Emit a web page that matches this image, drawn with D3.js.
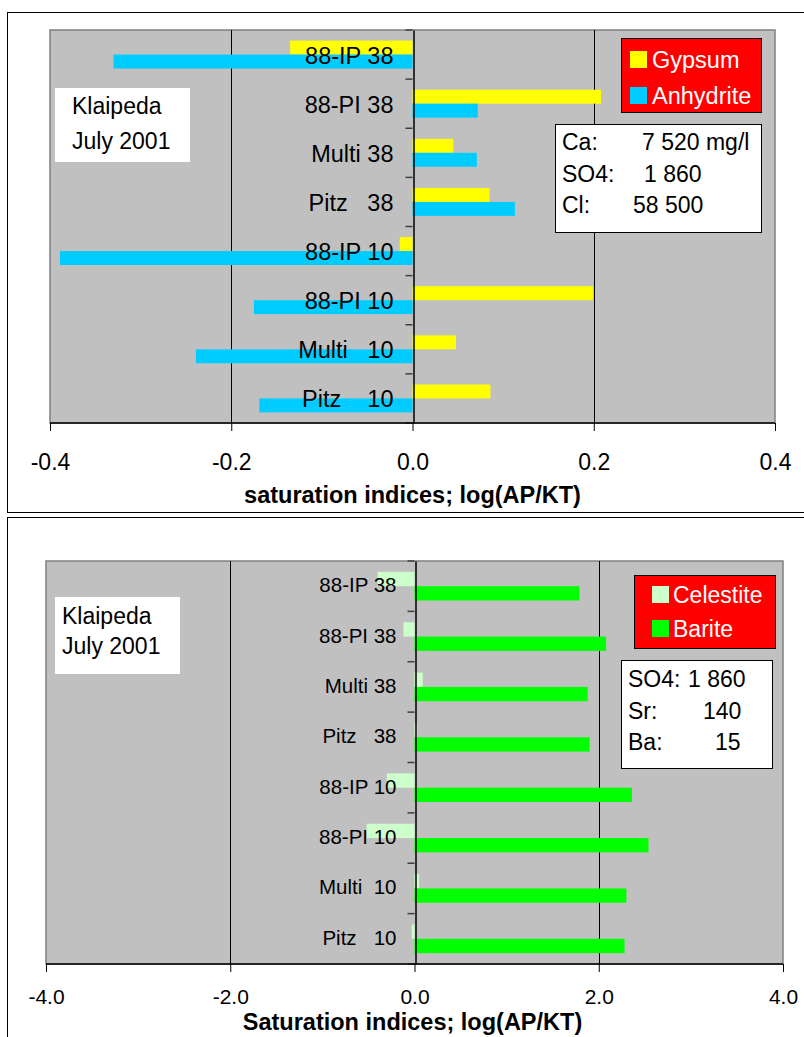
<!DOCTYPE html>
<html>
<head>
<meta charset="utf-8">
<script src="https://cdn.jsdelivr.net/npm/d3@7"></script>
<style>
  html, body { margin: 0; padding: 0; background: #fff; }
  svg { display: block; font-family: "Liberation Sans", Arial, sans-serif; }
  text { white-space: pre; }
</style>
</head>
<body>
<svg id="chart" width="804" height="1037"></svg>
<script>
// ---------- DATA ----------
const categoriesTop = ["88-IP 38", "88-PI 38", "Multi 38", "Pitz   38", "88-IP 10", "88-PI 10", "Multi   10", "Pitz    10"];
const gypsum    = [-0.135, 0.208, 0.045, 0.085, -0.014, 0.199, 0.048, 0.086];
const anhydrite = [-0.330, 0.072, 0.071, 0.113, -0.389, -0.175, -0.239, -0.169];
const seriesTop = ["Gypsum", "Anhydrite"];
const ticksTop = [-0.4, -0.2, 0.0, 0.2, 0.4];
const titleTop = "saturation indices; log(AP/KT)";
const infoTopLabels = ["Ca:", "SO4:", "Cl:"];
const infoTopValues = ["7 520 mg/l", "1 860", "58 500"];

const categoriesBottom = ["88-IP 38", "88-PI 38", "Multi 38", "Pitz   38", "88-IP 10", "88-PI 10", "Multi  10", "Pitz   10"];
const celestite = [-0.40, -0.12, 0.09, 0.03, -0.30, -0.52, 0.05, -0.03];
const barite    = [1.79, 2.08, 1.88, 1.90, 2.36, 2.54, 2.30, 2.28];
const seriesBottom = ["Celestite", "Barite"];
const ticksBottom = [-4.0, -2.0, 0.0, 2.0, 4.0];
const titleBottom = "Saturation indices; log(AP/KT)";
const infoBottomLabels = ["SO4:", "Sr:", "Ba:"];
const infoBottomValues = ["1 860", "140", "15"];

const siteLines = ["Klaipeda", "July 2001"];

// ---------- DRAW ----------
const svg = d3.select("#chart");
const FONT = "'Liberation Sans', Arial, sans-serif";

function drawChart(cfg) {
  const g = svg.append("g");
  // outer frame
  g.append("rect")
    .attr("x", cfg.frame[0] + 0.5).attr("y", cfg.frame[1] + 0.5)
    .attr("width", cfg.frame[2]).attr("height", cfg.frame[3])
    .attr("fill", "#fff").attr("stroke", "#000").attr("stroke-width", 1);

  const x = d3.scaleLinear().domain(cfg.domain).range([cfg.left, cfg.right]);
  const y = d3.scaleBand().domain(cfg.cats).range([cfg.top, cfg.bottom]).padding(0);
  const ySub = d3.scaleBand().domain(cfg.series).range([0, y.bandwidth()]).paddingInner(0).paddingOuter(0.76);

  // plot area
  g.append("rect")
    .attr("x", cfg.left).attr("y", cfg.top)
    .attr("width", cfg.right - cfg.left).attr("height", cfg.bottom - cfg.top)
    .attr("fill", "#c0c0c0").attr("stroke", "#808080").attr("stroke-width", 1.5);

  // gridlines
  g.selectAll(".grid").data(cfg.ticks.filter(t => t !== 0 && t !== cfg.domain[0] && t !== cfg.domain[1]))
    .join("line")
    .attr("x1", d => Math.round(x(d)) + 0.5).attr("x2", d => Math.round(x(d)) + 0.5)
    .attr("y1", cfg.top).attr("y2", cfg.bottom)
    .attr("stroke", "#000").attr("stroke-width", 1);

  // bars
  const rows = cfg.cats.map((c, i) => ({ c, vals: cfg.values.map(v => v[i]) }));
  rows.forEach(r => {
    r.vals.forEach((v, j) => {
      g.append("rect")
        .attr("x", Math.min(x(0), x(v)))
        .attr("y", y(r.c) + ySub(cfg.series[j]))
        .attr("width", Math.abs(x(v) - x(0)))
        .attr("height", ySub.bandwidth())
        .attr("fill", cfg.colors[j]);
    });
  });

  // category labels (inside plot, right aligned left of zero)
  g.selectAll(".cat").data(cfg.cats).join("text")
    .attr("x", x(0) - cfg.labelGap)
    .attr("y", d => y(d) + y.bandwidth() / 2 + cfg.labelDy)
    .attr("text-anchor", "end")
    .attr("font-size", cfg.catFont)
    .attr("fill", "#000")
    .text(d => d);

  // category axis (zero line) with ticks to the left
  const yAxis = d3.axisLeft(y).tickSize(0).tickFormat("");
  const ya = g.append("g").attr("transform", `translate(${Math.round(x(0)) + 0.5},0)`).call(yAxis);
  ya.select(".domain").attr("stroke", "#000").attr("stroke-width", 1.5);
  const bounds = d3.range(cfg.cats.length + 1).map(i => cfg.top + i * y.step());
  g.selectAll(".ctick").data(bounds).join("line")
    .attr("x1", x(0) - 7).attr("x2", x(0))
    .attr("y1", d => d).attr("y2", d => d)
    .attr("stroke", "#404040").attr("stroke-width", 1.5);

  // value axis
  const xAxis = d3.axisBottom(x).tickValues(cfg.ticks).tickSize(8).tickPadding(cfg.tickPad)
    .tickFormat(d3.format(".1f"));
  const xa = g.append("g").attr("transform", `translate(0,${cfg.bottom})`).call(xAxis);
  xa.select(".domain").attr("stroke", "#000").attr("stroke-width", 1.5).attr("d", `M${cfg.left},0H${cfg.right}`);
  xa.selectAll(".tick line").attr("stroke", "#000");
  xa.selectAll(".tick text").attr("font-size", cfg.tickFont).attr("font-family", FONT).attr("fill", "#000")
    .attr("dy", 0).attr("y", cfg.tickBaseline - cfg.bottom);
  xa.selectAll(".tick text").text(d => d3.format(".1f")(d).replace("−", "-"));

  // axis title
  g.append("text")
    .attr("x", (cfg.left + cfg.right) / 2 + cfg.titleDx).attr("y", cfg.titleBaseline)
    .attr("text-anchor", "middle").attr("font-weight", "bold").attr("font-size", cfg.titleFont)
    .text(cfg.title);

  // legend
  const L = cfg.legend;
  g.append("rect").attr("x", L.x + 0.5).attr("y", L.y + 0.5).attr("width", L.w).attr("height", L.h)
    .attr("fill", "#ff0000").attr("stroke", "#000").attr("stroke-width", 1);
  cfg.series.forEach((s, j) => {
    g.append("rect").attr("x", L.sx).attr("y", L.baselines[j] - 17).attr("width", 17).attr("height", 17)
      .attr("fill", cfg.colors[j]);
    g.append("text").attr("x", L.tx).attr("y", L.baselines[j]).attr("font-size", L.font)
      .attr("fill", "#fff").text(s);
  });

  // info box
  const I = cfg.info;
  g.append("rect").attr("x", I.x + 0.5).attr("y", I.y + 0.5).attr("width", I.w).attr("height", I.h)
    .attr("fill", "#fff").attr("stroke", "#000").attr("stroke-width", 1);
  cfg.infoLabels.forEach((lab, i) => {
    g.append("text").attr("x", I.lx).attr("y", I.baselines[i]).attr("font-size", I.font).text(lab);
    g.append("text").attr("x", I.vx[i]).attr("y", I.baselines[i]).attr("font-size", I.font).text(cfg.infoValues[i]);
  });

  // site box
  const S = cfg.site;
  g.append("rect").attr("x", S.x).attr("y", S.y).attr("width", S.w).attr("height", S.h).attr("fill", "#fff");
  siteLines.forEach((t, i) => {
    g.append("text").attr("x", S.tx).attr("y", S.baselines[i]).attr("font-size", S.font).text(t);
  });
}

drawChart({
  frame: [7, 12, 820, 500],
  domain: [-0.4, 0.4], left: 50, right: 775, top: 30, bottom: 423,
  cats: categoriesTop, series: seriesTop, values: [gypsum, anhydrite],
  colors: ["#ffff00", "#00ccff"],
  ticks: ticksTop, tickFont: 23, tickBaseline: 470, tickPad: 8,
  labelGap: 19, labelDy: 9, catFont: 23.5,
  title: titleTop, titleFont: 23.5, titleBaseline: 503, titleDx: 0,
  legend: { x: 621, y: 38, w: 140, h: 74, sx: 630, tx: 652, baselines: [68, 104], font: 23.5 },
  infoLabels: infoTopLabels, infoValues: infoTopValues,
  info: { x: 555, y: 124, w: 206, h: 108, lx: 562, vx: [642, 644, 633], baselines: [150, 182, 213], font: 23 },
  site: { x: 55, y: 88, w: 135, h: 74, tx: 72, baselines: [114, 149], font: 23 }
});

drawChart({
  frame: [7, 517, 820, 540],
  domain: [-4, 4], left: 46, right: 783, top: 561, bottom: 964,
  cats: categoriesBottom, series: seriesBottom, values: [celestite, barite],
  colors: ["#ccffcc", "#00ff00"],
  ticks: ticksBottom, tickFont: 21, tickBaseline: 1004, tickPad: 8,
  labelGap: 18, labelDy: 6, catFont: 20.5,
  title: titleBottom, titleFont: 23.5, titleBaseline: 1030, titleDx: -2,
  legend: { x: 634, y: 575, w: 141, h: 73, sx: 652, tx: 673, baselines: [603, 637], font: 23 },
  infoLabels: infoBottomLabels, infoValues: infoBottomValues,
  info: { x: 621, y: 660, w: 151, h: 108, lx: 628, vx: [688, 703, 715], baselines: [687, 719, 750], font: 23 },
  site: { x: 55, y: 597, w: 125, h: 77, tx: 62, baselines: [624, 654], font: 23 }
});
</script>
</body>
</html>
